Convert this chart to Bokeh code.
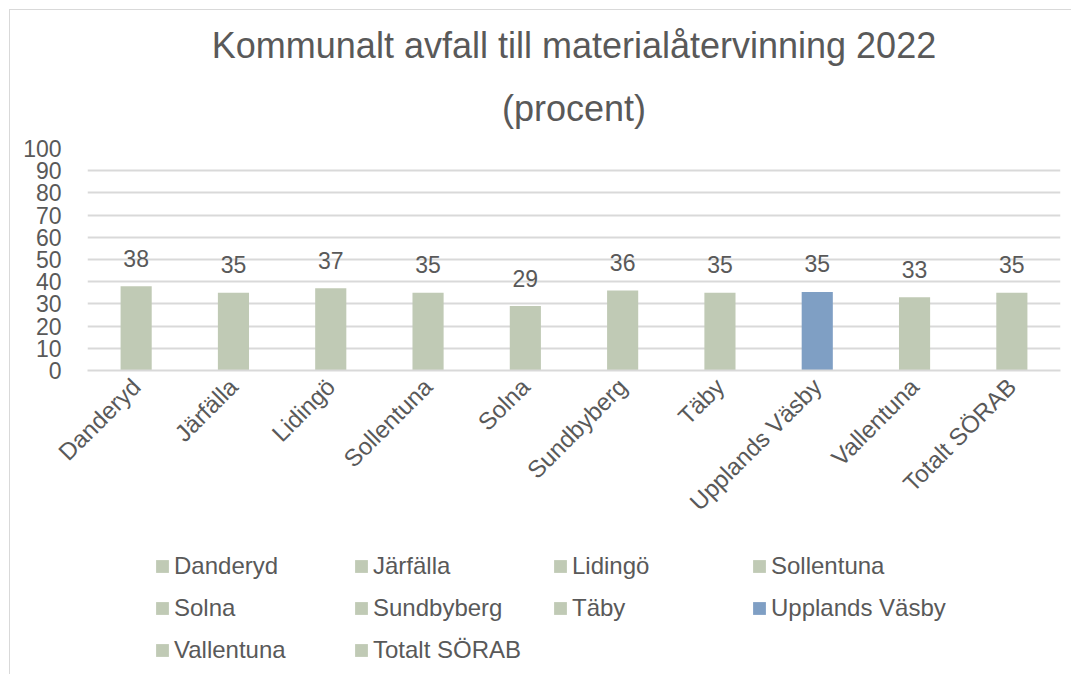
import math
from bokeh.plotting import figure
from bokeh.layouts import column
from bokeh.models import ColumnDataSource, Legend, LegendItem, Title, FixedTicker
from bokeh.core.properties import value
from bokeh.embed import file_html
from bokeh.resources import INLINE

categories = ["Danderyd", "Järfälla", "Lidingö", "Sollentuna", "Solna",
              "Sundbyberg", "Täby", "Upplands Väsby", "Vallentuna", "Totalt SÖRAB"]
values = [38, 35, 37, 35, 29, 36, 35, 35.4, 33, 35]
labels = ["38", "35", "37", "35", "29", "36", "35", "35", "33", "35"]
y_ticks = [0, 10, 20, 30, 40, 50, 60, 70, 80, 90, 100]

GREEN = "#c0cab5"
BLUE = "#7f9fc4"
TEXT = "#595959"
GRID = "#d9d9d9"
FONT = "Liberation Sans"

colors = [BLUE if c == "Upplands Väsby" else GREEN for c in categories]

src = ColumnDataSource(dict(cat=categories, val=values, lab=labels, color=colors))

p = figure(x_range=categories, y_range=(0, 100), width=1061, height=535,
           output_backend="svg", toolbar_location=None, title=None,
           min_border_left=77, min_border_right=11, min_border_top=138,
           min_border_bottom=175)
p.outline_line_color = None

r = p.vbar(x="cat", top="val", width=0.32, color="color", line_color=None, source=src)
p.text(x="cat", y="val", text="lab", source=src, text_align="center",
       text_baseline="alphabetic", y_offset=-28, text_color=TEXT,
       text_font=value(FONT), text_font_size="23px")

p.add_layout(Title(text="(procent)", align="center", text_font=FONT,
                   text_font_size="36px", text_color=TEXT, text_font_style="normal",
                   standoff=40, offset=-25), "above")
p.add_layout(Title(text="Kommunalt avfall till materialåtervinning 2022", align="center",
                   text_font=FONT, text_font_size="36px", text_color=TEXT,
                   text_font_style="normal", standoff=0, offset=-25), "above")

p.yaxis.ticker = FixedTicker(ticks=y_ticks)
p.yaxis.axis_line_color = None
p.yaxis.major_tick_line_color = None
p.yaxis.minor_tick_line_color = None
p.yaxis.major_label_text_font = FONT
p.yaxis.major_label_text_font_size = "23px"
p.yaxis.major_label_text_color = TEXT
p.yaxis.major_label_standoff = 20

p.xaxis.axis_line_color = GRID
p.xaxis.axis_line_width = 2
p.xaxis.major_tick_line_color = None
p.xaxis.minor_tick_line_color = None
p.xaxis.major_label_orientation = math.pi / 4
p.xaxis.major_label_text_font = FONT
p.xaxis.major_label_text_font_size = "24px"
p.xaxis.major_label_text_color = TEXT
p.xaxis.major_label_standoff = 6

p.xgrid.grid_line_color = None
p.ygrid.grid_line_color = GRID
p.ygrid.grid_line_width = 2

# legend figure (bars kept out of view; only the legend is visible)
p2 = figure(x_range=categories, y_range=(1000, 1001), width=1061, height=129,
            output_backend="svg", toolbar_location=None, min_border=0)
p2.axis.visible = False
p2.grid.visible = False
p2.outline_line_color = None
r2 = p2.vbar(x="cat", top="val", width=0.32, color="color", line_color=None, source=src)

items = [LegendItem(label=c, renderers=[r2], index=i) for i, c in enumerate(categories)]
legend = Legend(items=items, ncols=4, location=(67, 10), orientation="horizontal",
                glyph_width=16, glyph_height=16, label_standoff=4,
                label_width=165, label_height=20, spacing=14,
                label_text_font=FONT, label_text_font_size="24px",
                label_text_color=TEXT, border_line_color=None,
                background_fill_alpha=0, padding=8, margin=0)
p2.add_layout(legend, "center")

layout = column(p, p2, spacing=0)
layout.styles = {"border-left": "1px solid #d9d9d9", "border-top": "1px solid #d9d9d9",
                 "margin-left": "9px", "margin-top": "9px"}

open("out.html", "w").write(file_html(layout, INLINE))
